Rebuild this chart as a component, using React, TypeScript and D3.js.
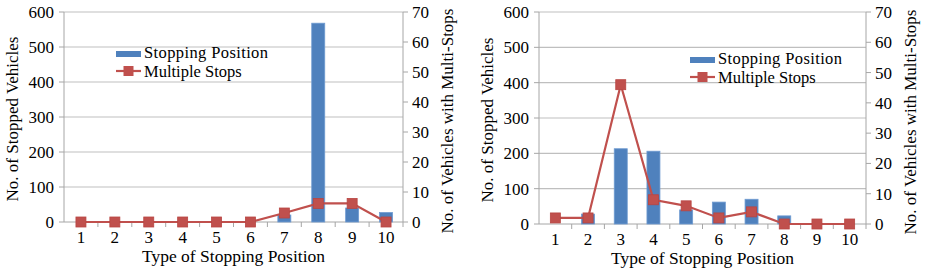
import React from 'react';
import * as d3 from 'd3';

const categories = ['1', '2', '3', '4', '5', '6', '7', '8', '9', '10'];
const leftTicks = [0, 100, 200, 300, 400, 500, 600];
const rightTicks = [0, 10, 20, 30, 40, 50, 60, 70];

// left panel
const stoppingA = [0, 0, 0, 0, 0, 0, 20, 568, 40, 27];
const multiA = [0, 0, 0, 0, 0, 0, 3, 6.2, 6.2, 0];

// right panel
const stoppingB = [0, 28, 213, 206, 40, 62, 70, 23, 0, 0];
const multiB = [2, 2, 46, 8, 6, 2, 4, 0, 0, 0];

const BLUE = '#4f81bd';
const RED = '#c0504d';
const AXIS = '#a6a6a6';
const T = { fontFamily: 'Liberation Serif', fontSize: 17, fill: '#000' };

const Panel = ({ ox, left, right, top, bottom, bars, line, legendX, legendY }) => {
  const x = d3.scaleBand().domain(categories).range([left, right]);
  const yL = d3.scaleLinear().domain([0, 600]).range([bottom, top]);
  const yR = d3.scaleLinear().domain([0, 70]).range([bottom, top]);
  const cx = i => x(categories[i]) + x.bandwidth() / 2;
  const bw = 13;

  const lineGen = d3.line<number>()
    .x((d, i) => cx(i))
    .y(d => yR(d));

  return (
    <g transform={`translate(${ox},0)`}>
      {/* gridlines */}
      {leftTicks.slice(1).map(t => (
        <line key={'g' + t} x1={left} x2={right} y1={yL(t)} y2={yL(t)} stroke="#bfbfbf" strokeWidth={1.2} />
      ))}

      {/* axes */}
      <line x1={left} x2={left} y1={top} y2={bottom} stroke={AXIS} />
      <line x1={right} x2={right} y1={top} y2={bottom} stroke={AXIS} />
      <line x1={left} x2={right} y1={bottom} y2={bottom} stroke={AXIS} />
      {leftTicks.map(t => (
        <line key={'lt' + t} x1={left - 5} x2={left} y1={yL(t)} y2={yL(t)} stroke={AXIS} />
      ))}
      {rightTicks.map(t => (
        <line key={'rt' + t} x1={right} x2={right + 5} y1={yR(t)} y2={yR(t)} stroke={AXIS} />
      ))}
      {categories.map(c => (
        <line key={'xt' + c} x1={x(c) + x.bandwidth()} x2={x(c) + x.bandwidth()} y1={bottom} y2={bottom + 5} stroke={AXIS} />
      ))}

      {/* bars */}
      {bars.map((v, i) => (
        <rect key={'b' + i} x={cx(i) - bw / 2} y={yL(v)} width={bw} height={bottom - yL(v)}
          fill={BLUE} stroke="#6f9bd1" strokeWidth={0.8} />
      ))}

      {/* line with square markers */}
      <path d={lineGen(line)} fill="none" stroke={RED} strokeWidth={2.2} />
      {line.map((v, i) => (
        <rect key={'m' + i} x={cx(i) - 5} y={yR(v) - 5} width={10} height={10}
          fill={RED} stroke="#b84542" strokeWidth={0.8} />
      ))}

      {/* tick labels */}
      {leftTicks.map(t => (
        <text key={'ll' + t} {...T} x={left - 10} y={yL(t) + 6} textAnchor="end">{t}</text>
      ))}
      {rightTicks.map(t => (
        <text key={'rl' + t} {...T} x={right + 9} y={yR(t) + 6}>{t}</text>
      ))}
      {categories.map(c => (
        <text key={'xl' + c} {...T} x={x(c) + x.bandwidth() / 2} y={bottom + 21} textAnchor="middle">{c}</text>
      ))}

      {/* axis titles */}
      <text {...T} fontSize={17.5} x={(left + right) / 2} y={bottom + 40} textAnchor="middle">Type of Stopping Position</text>
      <text {...T} transform={`translate(${left - 46},${(top + bottom) / 2 + 2}) rotate(-90)`} textAnchor="middle">
        No. of Stopped Vehicles
      </text>
      <text {...T} transform={`translate(${right + 50},${(top + bottom) / 2 + 4}) rotate(-90)`} textAnchor="middle">
        No. of Vehicles with Multi-Stops
      </text>

      {/* legend */}
      <rect x={legendX} y={legendY - 1} width={25} height={6} fill={BLUE} />
      <text {...T} fontSize={16.5} textLength={124} x={legendX + 28} y={legendY + 6}>Stopping Position</text>
      <line x1={legendX} x2={legendX + 25} y1={legendY + 19} y2={legendY + 19} stroke={RED} strokeWidth={2.2} />
      <rect x={legendX + 7.5} y={legendY + 14} width={10} height={10} fill={RED} />
      <text {...T} fontSize={16.5} x={legendX + 28} y={legendY + 25}>Multiple Stops</text>
    </g>
  );
};

export default function App() {
  return (
    <svg
      width={925}
      height={272}
      style={{ position: 'absolute', left: 0, top: 0, background: '#fff' }}
    >
      <Panel ox={0} left={64} right={403} top={12} bottom={222} bars={stoppingA} line={multiA} legendX={116} legendY={52} />
      <Panel ox={460} left={79} right={406} top={12} bottom={224} bars={stoppingB} line={multiB} legendX={230} legendY={58} />
    </svg>
  );
}
